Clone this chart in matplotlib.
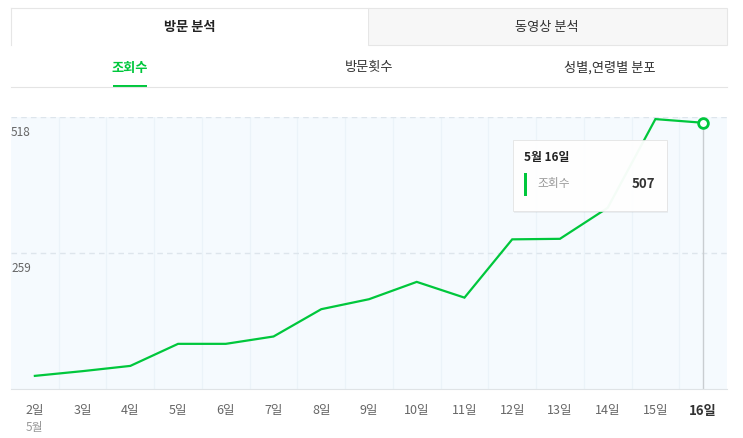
import matplotlib.pyplot as plt
import matplotlib.patches as patches
import matplotlib.transforms as mtransforms

plt.rcParams['font.family'] = ['Noto Sans CJK KR', 'DejaVu Sans']

### DATA ###
days   = ['2일', '3일', '4일', '5일', '6일', '7일', '8일', '9일',
          '10일', '11일', '12일', '13일', '14일', '15일', '16일']
views  = [25, 34, 44, 86, 86, 100, 152, 171, 204, 174, 285, 286, 345, 514, 507]
yticks = [259, 518]
month  = '5월'
main_tabs = ['방문 분석', '동영상 분석']
sub_tabs  = ['조회수', '방문횟수', '성별,연령별 분포']
tip_title = '5월 16일'
tip_label = '조회수'

GREEN = '#00c73c'
W, H = 743, 438

fig = plt.figure(figsize=(W/100, H/100), dpi=100)

# pixel -> figure fraction
def fx(x):
	return x/W

def fy(y):
	return 1 - y/H

def rect(x0, y0, x1, y1, **kw):
	r = patches.Rectangle((fx(x0), fy(y1)), fx(x1) - fx(x0), fy(y0) - fy(y1),
	                      transform=fig.transFigure, **kw)
	fig.patches.append(r)
	return r

def hline(x0, x1, y, **kw):
	fig.lines.append(plt.Line2D([fx(x0), fx(x1)], [fy(y), fy(y)], transform=fig.transFigure, **kw))

### TABS ###
rect(368, 8, 727, 45, facecolor='#f7f7f7', edgecolor='#e6e6e6', lw=0.8)
rect(11, 8, 368, 45, facecolor='white', edgecolor='none')
hline(11, 368, 8, color='#e6e6e6', lw=0.8)
fig.lines.append(plt.Line2D([fx(11), fx(11)], [fy(8), fy(45)], color='#e6e6e6', lw=0.8,
                            transform=fig.transFigure))
fig.text(fx(190), fy(27), main_tabs[0], ha='center', va='center', fontsize=9.5,
         fontweight='bold', color='#222222')
fig.text(fx(547), fy(27), main_tabs[1], ha='center', va='center', fontsize=9.5,
         color='#333333')

fig.text(fx(130), fy(68), sub_tabs[0], ha='center', va='center', fontsize=9.5,
         fontweight='bold', color=GREEN)
fig.text(fx(369), fy(68), sub_tabs[1], ha='center', va='center', fontsize=9.5,
         color='#333333')
fig.text(fx(610), fy(68), sub_tabs[2], ha='center', va='center', fontsize=9.5,
         color='#333333')
hline(11, 727, 87, color='#e4e4e4', lw=0.8)
rect(113, 85, 147, 88, facecolor=GREEN, edgecolor='none')

### CHART ###
ax = fig.add_axes([fx(11), fy(389), fx(727) - fx(11), fy(117) - fy(389)])
ax.set_facecolor('#f5fafe')
x = list(range(len(days)))
ax.set_xlim(-0.5, len(days) - 0.5)
ax.set_ylim(0, yticks[-1])

for i in range(len(days) - 1):
	ax.axvline(i + 0.5, color='#ebf3f9', lw=0.9, zorder=1)
for v in yticks:
	ax.axhline(v, color='#dde5ec', lw=1, ls=(0, (4, 3)), zorder=1)
	ax.annotate(str(v), xy=(0, v), xycoords=('axes fraction', 'data'),
	            xytext=(0, -6.5), textcoords='offset points', ha='left', va='top',
	            fontsize=8.5, color='#666666')

ax.plot(x, views, color=GREEN, lw=1.6, zorder=3, solid_joinstyle='miter')
ax.plot([x[-1], x[-1]], [0, views[-1]], color='#c9cdd1', lw=1, zorder=2)
ax.plot([x[-1]], [views[-1]], 'o', ms=7, mfc='white', mec=GREEN, mew=2, zorder=4)

for s in ['top', 'left', 'right']:
	ax.spines[s].set_visible(False)
ax.spines['bottom'].set_color('#dfe3e6')
ax.set_yticks([])
ax.set_xticks(x)
ax.set_xticklabels(days, fontsize=9, color='#666666')
ax.tick_params(axis='x', length=0, pad=11)
last = ax.get_xticklabels()[-1]
last.set_fontweight('bold')
last.set_color('#333333')
last.set_fontsize(9.5)
ax.text(0, -0.143, month, transform=mtransforms.blended_transform_factory(ax.transData, ax.transAxes),
        ha='center', va='center', fontsize=8.5, color='#999999')

### TOOLTIP ###
rect(514, 142, 668, 213, facecolor='#000000', edgecolor='none', alpha=0.05)
rect(513, 140, 667, 211, facecolor='white', edgecolor='#e2e2e2', lw=0.6, alpha=0.96)
fig.text(fx(524), fy(157), tip_title, ha='left', va='center', fontsize=8.5,
         fontweight='bold', color='#222222')
rect(524, 173, 527, 196, facecolor=GREEN, edgecolor='none')
fig.text(fx(537), fy(184), tip_label, ha='left', va='center', fontsize=8.5, color='#999999')
fig.text(fx(655), fy(184), str(views[-1]), ha='right', va='center', fontsize=9.5,
         fontweight='bold', color='#333333')

fig.savefig('out.png', dpi=100)
